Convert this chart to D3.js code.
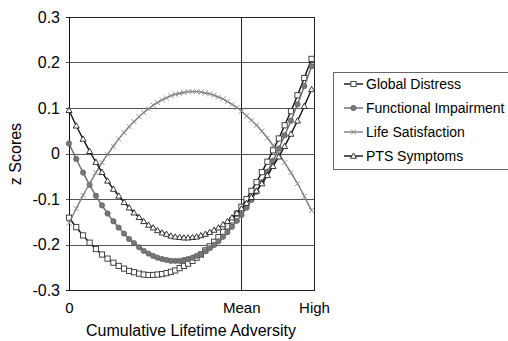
<!DOCTYPE html>
<html>
<head>
<meta charset="utf-8">
<script src="https://cdn.jsdelivr.net/npm/d3@7"></script>
<style>
  body { margin: 0; background: #fff; }
  svg { display: block; font-family: "Liberation Sans", Arial, sans-serif; }
</style>
</head>
<body>
<svg width="508" height="341"></svg>
<script>
// adversity (0 = none, 71 = mean, 101 = high)
var adversity = [0, 3.0, 5.8, 8.5, 11.1, 13.6, 15.9, 18.3, 20.5, 22.7, 24.8, 26.8, 28.9, 30.8, 32.8, 34.7,
  36.5, 38.4, 40.2, 42.0, 43.8, 45.6, 47.4, 49.1, 50.9, 52.6, 54.4, 56.2, 58.0, 59.8, 61.6, 63.5,
  65.3, 67.2, 69.2, 71.1, 73.2, 75.2, 77.3, 79.5, 81.8, 84.1, 86.5, 88.9, 91.5, 94.2, 97.0, 100];

var globalDistress = [-0.141, -0.162, -0.180, -0.196, -0.210, -0.222, -0.231, -0.240, -0.247, -0.253, -0.258, -0.261, -0.264, -0.266, -0.267, -0.267,
  -0.266, -0.265, -0.263, -0.260, -0.257, -0.252, -0.247, -0.242, -0.236, -0.229, -0.222, -0.213, -0.204, -0.194, -0.184, -0.172,
  -0.160, -0.147, -0.132, -0.117, -0.100, -0.082, -0.063, -0.041, -0.018, 0.007, 0.033, 0.062, 0.093, 0.128, 0.166, 0.208];

var functionalImpairment = [0.022, -0.012, -0.042, -0.069, -0.093, -0.114, -0.132, -0.149, -0.163, -0.176, -0.188, -0.197, -0.206, -0.214, -0.220, -0.225,
  -0.229, -0.232, -0.234, -0.236, -0.236, -0.236, -0.234, -0.232, -0.229, -0.225, -0.221, -0.215, -0.208, -0.201, -0.193, -0.183,
  -0.173, -0.161, -0.148, -0.135, -0.119, -0.102, -0.084, -0.063, -0.040, -0.016, 0.011, 0.040, 0.072, 0.108, 0.148, 0.192];

var lifeSatisfaction = [-0.153, -0.121, -0.092, -0.066, -0.042, -0.020, -0.002, 0.016, 0.032, 0.046, 0.059, 0.070, 0.081, 0.090, 0.098, 0.106,
  0.112, 0.118, 0.122, 0.127, 0.130, 0.132, 0.134, 0.136, 0.136, 0.136, 0.135, 0.133, 0.131, 0.128, 0.124, 0.120,
  0.114, 0.108, 0.101, 0.093, 0.083, 0.073, 0.062, 0.049, 0.034, 0.018, 0.000, -0.020, -0.042, -0.066, -0.094, -0.125];

var ptsSymptoms = [0.095, 0.061, 0.032, 0.005, -0.019, -0.041, -0.060, -0.078, -0.093, -0.107, -0.119, -0.130, -0.140, -0.149, -0.157, -0.163,
  -0.169, -0.174, -0.177, -0.181, -0.183, -0.184, -0.185, -0.185, -0.184, -0.183, -0.180, -0.177, -0.173, -0.168, -0.163, -0.156,
  -0.149, -0.141, -0.131, -0.121, -0.109, -0.096, -0.082, -0.066, -0.048, -0.028, -0.007, 0.016, 0.043, 0.072, 0.104, 0.141];

var seriesNames = ["Global Distress", "Functional Impairment", "Life Satisfaction", "PTS Symptoms"];
var yTicks = [-0.3, -0.2, -0.1, 0, 0.1, 0.2, 0.3];
var xTickValues = [0, 71, 101];
var xTickLabels = ["0", "Mean", "High"];

var svg = d3.select("svg");

var x = d3.scaleLinear().domain([0, 101]).range([69, 314]);
var y = d3.scaleLinear().domain([-0.3, 0.3]).range([290, 17]);

// gridlines (they run out a few px past the left axis as ticks)
var grid = svg.append("g");
grid.selectAll("line")
  .data(yTicks)
  .enter().append("line")
  .attr("x1", x(0) - 3)
  .attr("x2", x(101))
  .attr("y1", function(d) { return Math.round(y(d)) + 0.5; })
  .attr("y2", function(d) { return Math.round(y(d)) + 0.5; })
  .attr("stroke", function(d) { return Math.abs(d) > 0.29 ? "#222" : "#555"; })
  .attr("stroke-width", 1);

// frame: left axis, right edge, mean line
svg.append("line")
  .attr("x1", x(0) + 0.5).attr("x2", x(0) + 0.5)
  .attr("y1", y(0.3)).attr("y2", y(-0.3) + 1)
  .attr("stroke", "#111");
svg.append("line")
  .attr("x1", x(101) + 0.5).attr("x2", x(101) + 0.5)
  .attr("y1", y(0.3)).attr("y2", y(-0.3) + 1)
  .attr("stroke", "#222");
svg.append("line")
  .attr("x1", Math.round(x(71)) + 0.5).attr("x2", Math.round(x(71)) + 0.5)
  .attr("y1", y(0.3)).attr("y2", y(-0.3))
  .attr("stroke", "#222");

// y axis labels
var yAxis = d3.axisLeft(y)
  .tickValues(yTicks)
  .tickSize(0)
  .tickPadding(9)
  .tickFormat(function(d) { return Math.abs(d) < 1e-9 ? "0" : d.toFixed(1); });
var gy = svg.append("g").attr("transform", "translate(" + x(0) + ",0)").call(yAxis);
gy.select(".domain").remove();
gy.selectAll("text").attr("font-size", 16).attr("fill", "#000")
  .attr("font-family", "'Liberation Sans', Arial, sans-serif");

// x axis labels
var xAxis = d3.axisBottom(x)
  .tickValues(xTickValues)
  .tickSize(0)
  .tickPadding(12)
  .tickFormat(function(d, i) { return xTickLabels[i]; });
var gx = svg.append("g").attr("transform", "translate(0," + y(-0.3) + ")").call(xAxis);
gx.select(".domain").remove();
gx.selectAll("text").attr("font-size", 15).attr("fill", "#000")
  .attr("font-family", "'Liberation Sans', Arial, sans-serif");

// axis titles
svg.append("text")
  .attr("x", 191).attr("y", 336)
  .attr("text-anchor", "middle")
  .attr("font-size", 16)
  .text("Cumulative Lifetime Adversity");
svg.append("text")
  .attr("transform", "translate(21,154) rotate(-90)")
  .attr("text-anchor", "middle")
  .attr("font-size", 16)
  .text("z Scores");

// series
var series = [
  { name: seriesNames[0], values: globalDistress, line: "#111", marker: "square" },
  { name: seriesNames[1], values: functionalImpairment, line: "#6a6a6a", marker: "circle" },
  { name: seriesNames[2], values: lifeSatisfaction, line: "#7a7a7a", marker: "cross" },
  { name: seriesNames[3], values: ptsSymptoms, line: "#111", marker: "triangle" }
];

function drawMarker(g, type, cx, cy) {
  if (type == "square") {
    g.append("rect").attr("x", cx - 2.6).attr("y", cy - 2.6).attr("width", 5.2).attr("height", 5.2)
      .attr("fill", "#fff").attr("stroke", "#333").attr("stroke-width", 0.9);
  } else if (type == "circle") {
    g.append("circle").attr("cx", cx).attr("cy", cy).attr("r", 2.7)
      .attr("fill", "#777").attr("stroke", "#555").attr("stroke-width", 0.6);
  } else if (type == "cross") {
    g.append("path")
      .attr("d", "M" + (cx - 2.5) + "," + (cy - 2.5) + "L" + (cx + 2.5) + "," + (cy + 2.5) +
                 "M" + (cx - 2.5) + "," + (cy + 2.5) + "L" + (cx + 2.5) + "," + (cy - 2.5))
      .attr("stroke", "#888").attr("stroke-width", 0.9).attr("fill", "none");
  } else {
    g.append("path")
      .attr("d", "M" + cx + "," + (cy - 3) + "L" + (cx + 3) + "," + (cy + 2.3) + "L" + (cx - 3) + "," + (cy + 2.3) + "Z")
      .attr("fill", "#fff").attr("stroke", "#222").attr("stroke-width", 0.9);
  }
}

var line = d3.line()
  .x(function(d, i) { return x(adversity[i]); })
  .y(function(d) { return y(d); })
  .curve(d3.curveMonotoneX);

series.forEach(function(s) {
  var g = svg.append("g");
  g.append("path")
    .attr("d", line(s.values))
    .attr("fill", "none")
    .attr("stroke", s.line)
    .attr("stroke-width", 1.4);
  s.values.forEach(function(v, i) {
    drawMarker(g, s.marker, x(adversity[i]), y(v));
  });
});

// legend (box runs off the right edge, as in the original)
var legend = svg.append("g");
legend.append("rect")
  .attr("x", 333.5).attr("y", 72.5)
  .attr("width", 190).attr("height", 97)
  .attr("fill", "#fff").attr("stroke", "#666");
series.forEach(function(s, i) {
  var ly = 84 + i * 24;
  legend.append("line")
    .attr("x1", 344).attr("x2", 363)
    .attr("y1", ly).attr("y2", ly)
    .attr("stroke", s.line).attr("stroke-width", 1.4);
  drawMarker(legend, s.marker, 353.5, ly);
  legend.append("text")
    .attr("x", 366).attr("y", ly + 5)
    .attr("font-size", 14)
    .text(s.name);
});
</script>
</body>
</html>
